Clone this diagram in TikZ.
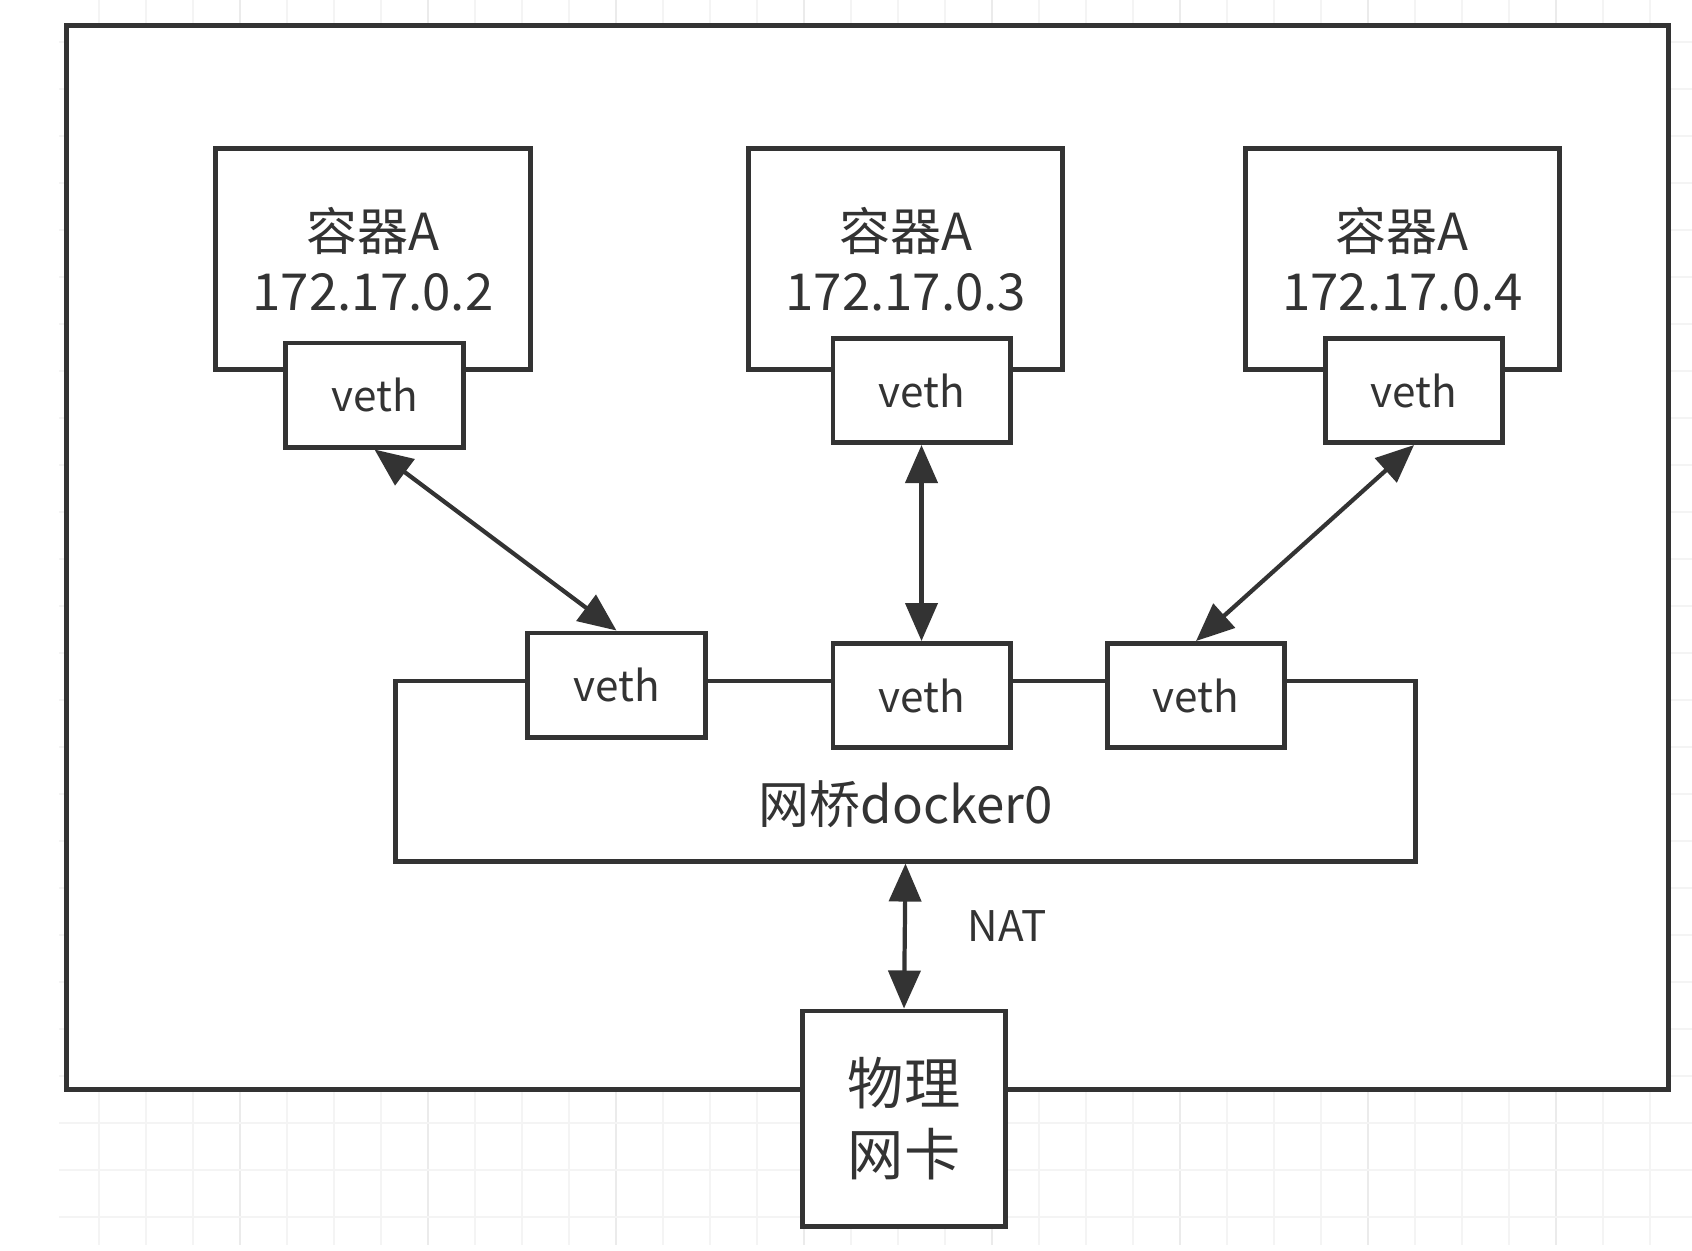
\documentclass[tikz,border=0pt]{standalone}
\usepackage{fontspec}
\setmainfont{Noto Sans CJK SC}
\usepackage{xcolor}
\usetikzlibrary{arrows.meta}
\usetikzlibrary{positioning}
\definecolor{ink}{HTML}{333333}

\begin{document}
\begin{tikzpicture}[x=0.01cm,y=-0.01cm,>={Triangle[length=3.8mm,width=3.2mm]},line width=1.4pt,draw=ink,text=ink]
  \tikzstyle{box}=[draw, rectangle, fill=white, inner sep=0pt]
  \tikzstyle{ctr}=[box, minimum width=3.14cm, minimum height=2.2cm, align=center, font=\fontsize{14.5}{17}\selectfont]
  \tikzstyle{veth}=[box, minimum width=1.77cm, minimum height=1.04cm, font=\fontsize{12}{14}\selectfont]
  \tikzstyle{link}=[<->, line width=1.2pt]
  \tikzstyle{gridline}=[draw=gray!9, line width=0.6pt]
  \tikzstyle{gridmajor}=[draw=gray!16, line width=0.7pt]
  \useasboundingbox (0,0) rectangle (1692,1250);
  % faint canvas grid
  \foreach \gx in {99,146,...,1692} \draw[gridline] (\gx,0) -- (\gx,1245);
  \foreach \gx in {240,428,...,1692} \draw[gridmajor] (\gx,0) -- (\gx,1245);
  \foreach \gy in {42,89,...,1245} \draw[gridline] (59,\gy) -- (1692,\gy);
  % host
  \node[box, minimum width=16.01cm, minimum height=10.63cm] (host) at (867.5,557.5) {};
  % containers
  \node[ctr] (ca) at (373,259) {容器A\\172.17.0.2};
  \node[ctr] (cb) [right=2.135cm of ca] {容器A\\172.17.0.3};
  \node[ctr] (cc) [right=1.775cm of cb] {容器A\\172.17.0.4};
  \node[veth] (va) at (374.5,395) {veth};
  \node[veth] (vb) at (921.5,390.5) {veth};
  \node[veth] (vc) at (1414,390.5) {veth};
  % bridge
  \node[box, minimum width=10.19cm, minimum height=1.8cm] (br) at (905.5,771) {};
  \node[veth] (ba) at (616.5,685) {veth};
  \node[veth] (bb) at (921.5,695.5) {veth};
  \node[veth] (bc) at (1196,695.5) {veth};
  \node[font=\fontsize{14.5}{17}\selectfont] (brname) at (905.5,804) {网桥docker0};
  % physical nic
  \node[box, minimum width=2.02cm, minimum height=2.15cm, align=center, font=\fontsize{16}{20}\selectfont] (nic) at (904,1118.5) {物理\\网卡};
  \node[font=\fontsize{12}{14}\selectfont] (nat) at (1007,926) {NAT};
  \path[link]
    (va.south) edge (ba.north)
    (vb.south) edge (bb.north)
    (vc.south) edge (bc.north)
    (br.south) edge (nic.north);
\end{tikzpicture}
\end{document}
